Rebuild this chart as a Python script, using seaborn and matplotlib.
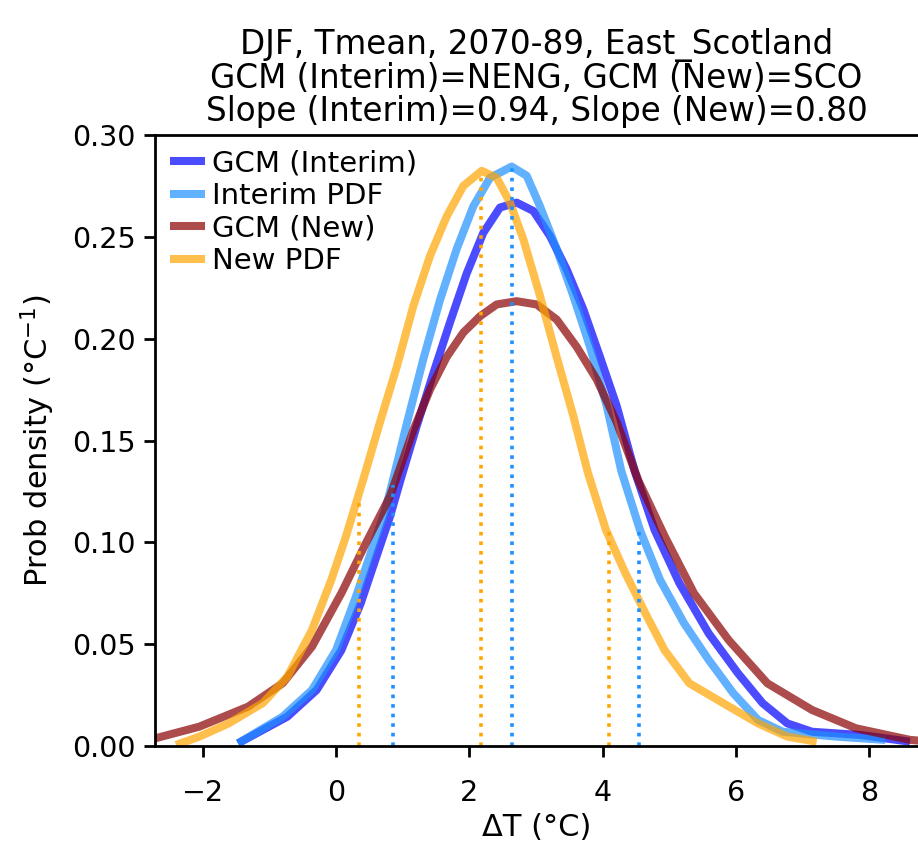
import numpy as np
import pandas as pd
import matplotlib
matplotlib.use("Agg")
import matplotlib.pyplot as plt
import seaborn as sns

# ---- data ----
gcm_interim_x = [-1.47, -0.73, -0.29, 0.08, 0.37, 0.59, 0.81, 0.98, 1.21, 1.46, 1.71, 1.96, 2.21,
                 2.46, 2.71, 2.96, 3.21, 3.46, 3.71, 3.96, 4.21, 4.48, 4.78, 5.15, 5.59, 6.03,
                 6.40, 6.77, 7.14, 7.87, 8.61]
gcm_interim_y = [0.0013, 0.0144, 0.0275, 0.047, 0.070, 0.0914, 0.1127, 0.132, 0.157, 0.183, 0.208,
                 0.232, 0.252, 0.2644, 0.2668, 0.2627, 0.2504, 0.234, 0.2144, 0.191, 0.167, 0.135,
                 0.106, 0.080, 0.0553, 0.0357, 0.021, 0.0111, 0.007, 0.0054, 0.0021]

interim_pdf_x = [-1.47, -0.80, -0.36, 0.00, 0.30, 0.52, 0.74, 0.85, 1.06, 1.31, 1.56, 1.81, 2.06,
                 2.31, 2.635, 2.86, 3.06, 3.31, 3.56, 3.81, 4.06, 4.28, 4.56, 4.86, 5.22, 5.59,
                 5.96, 6.33, 6.70, 7.50, 8.24]
interim_pdf_y = [0.0013, 0.0144, 0.0275, 0.047, 0.0734, 0.0947, 0.116, 0.130, 0.158, 0.190, 0.219,
                 0.244, 0.265, 0.279, 0.2845, 0.280, 0.265, 0.244, 0.221, 0.196, 0.167, 0.135,
                 0.106, 0.0816, 0.0603, 0.0423, 0.0259, 0.0128, 0.0070, 0.0046, 0.003]

gcm_new_x = [-2.80, -2.05, -1.32, -0.80, -0.36, 0.08, 0.45, 0.81, 1.16, 1.41, 1.66, 1.91, 2.16,
             2.41, 2.71, 3.01, 3.31, 3.61, 3.91, 4.21, 4.54, 4.93, 5.37, 5.89, 6.47, 7.14,
             7.80, 8.61, 8.80]
gcm_new_y = [0.003, 0.0095, 0.0193, 0.0308, 0.0488, 0.075, 0.0997, 0.1226, 0.155, 0.175, 0.191,
             0.203, 0.211, 0.2168, 0.2184, 0.2168, 0.2094, 0.196, 0.180, 0.159, 0.130, 0.103,
             0.075, 0.052, 0.0308, 0.0177, 0.0087, 0.003, 0.0025]

new_pdf_x = [-2.40, -2.05, -1.61, -1.10, -0.73, -0.36, -0.07, 0.15, 0.41, 0.66, 0.91, 1.16, 1.41,
             1.66, 1.91, 2.185, 2.41, 2.61, 2.81, 3.06, 3.31, 3.56, 3.78, 4.05, 4.34, 4.64,
             4.93, 5.30, 5.81, 6.33, 6.77, 7.21]
new_pdf_y = [0.0005, 0.0046, 0.0111, 0.021, 0.034, 0.057, 0.0816, 0.103, 0.131, 0.159, 0.186,
             0.216, 0.2406, 0.260, 0.275, 0.2824, 0.279, 0.2668, 0.2488, 0.221, 0.191, 0.162,
             0.134, 0.106, 0.0849, 0.0652, 0.047, 0.0308, 0.021, 0.0111, 0.0046, 0.0021]

new_pct_x = [0.35, 2.17, 4.09]
new_pct_top = [0.120, 0.2816, 0.106]
interim_pct_x = [0.85, 2.64, 4.55]
interim_pct_top = [0.128, 0.2856, 0.106]

labels = ["GCM (Interim)", "Interim PDF", "GCM (New)", "New PDF"]
colors = ["#0000ff", "#1e90ff", "#8b0000", "#ffa500"]

title = ("DJF, Tmean, 2070-89, East_Scotland\n"
         "GCM (Interim)=NENG, GCM (New)=SCO\n"
         "Slope (Interim)=0.94, Slope (New)=0.80")

# ---- plotting ----
sns.set_style("ticks")
plt.rcParams['font.family'] = ['DejaVu Sans']
plt.rcParams['text.color'] = 'black'
plt.rcParams['axes.labelcolor'] = 'black'

fig = plt.figure(figsize=(9.18, 8.43), dpi=100)
ax = fig.add_axes([155 / 918, 97 / 843, 1 - 155 / 918, (746 - 135) / 843])

series = [(gcm_interim_x, gcm_interim_y), (interim_pdf_x, interim_pdf_y),
          (gcm_new_x, gcm_new_y), (new_pdf_x, new_pdf_y)]
for (xs, ys), lab, col in zip(series, labels, colors):
    df = pd.DataFrame({"x": xs, "y": ys})
    sns.lineplot(data=df, x="x", y="y", ax=ax, color=col, alpha=0.7, lw=5.8,
                 label=lab, sort=False, estimator=None,
                 solid_joinstyle="round", solid_capstyle="butt")

ax.vlines(new_pct_x, 0, new_pct_top, colors="#ffa500", linestyles=":", lw=2.6)
ax.vlines(interim_pct_x, 0, interim_pct_top, colors="#1e90ff", linestyles=":", lw=2.6)

ax.set_xlim(-2.715, 8.73)
ax.set_ylim(0, 0.30)
ax.set_xticks([-2, 0, 2, 4, 6, 8])
yt = [0.0, 0.05, 0.10, 0.15, 0.20, 0.25, 0.30]
ax.set_yticks(yt)
ax.set_yticklabels([f"{v:.2f}" for v in yt])
ax.tick_params(labelsize=20.5, length=8, width=2, color="black", labelcolor="black")
ax.tick_params(axis="x", pad=16)
ax.tick_params(axis="y", pad=6)
for s in ["left", "bottom", "top"]:
    ax.spines[s].set_linewidth(2)
    ax.spines[s].set_color("black")
ax.spines["right"].set_visible(False)

ax.set_xlabel("ΔT (°C)", fontsize=22, labelpad=4)
ax.set_ylabel("Prob density (°C$^{-1}$)", fontsize=22, labelpad=11)
ax.set_title(title, fontsize=23.5, linespacing=1.0, pad=10)

leg = ax.legend(loc="upper left", frameon=False, fontsize=21, handlelength=1.2,
                handletextpad=0.25, borderaxespad=0.1, borderpad=0.4, labelspacing=0.15)
for h in leg.get_lines():
    h.set_linewidth(5.8)

fig.savefig("out.png", dpi=100)
